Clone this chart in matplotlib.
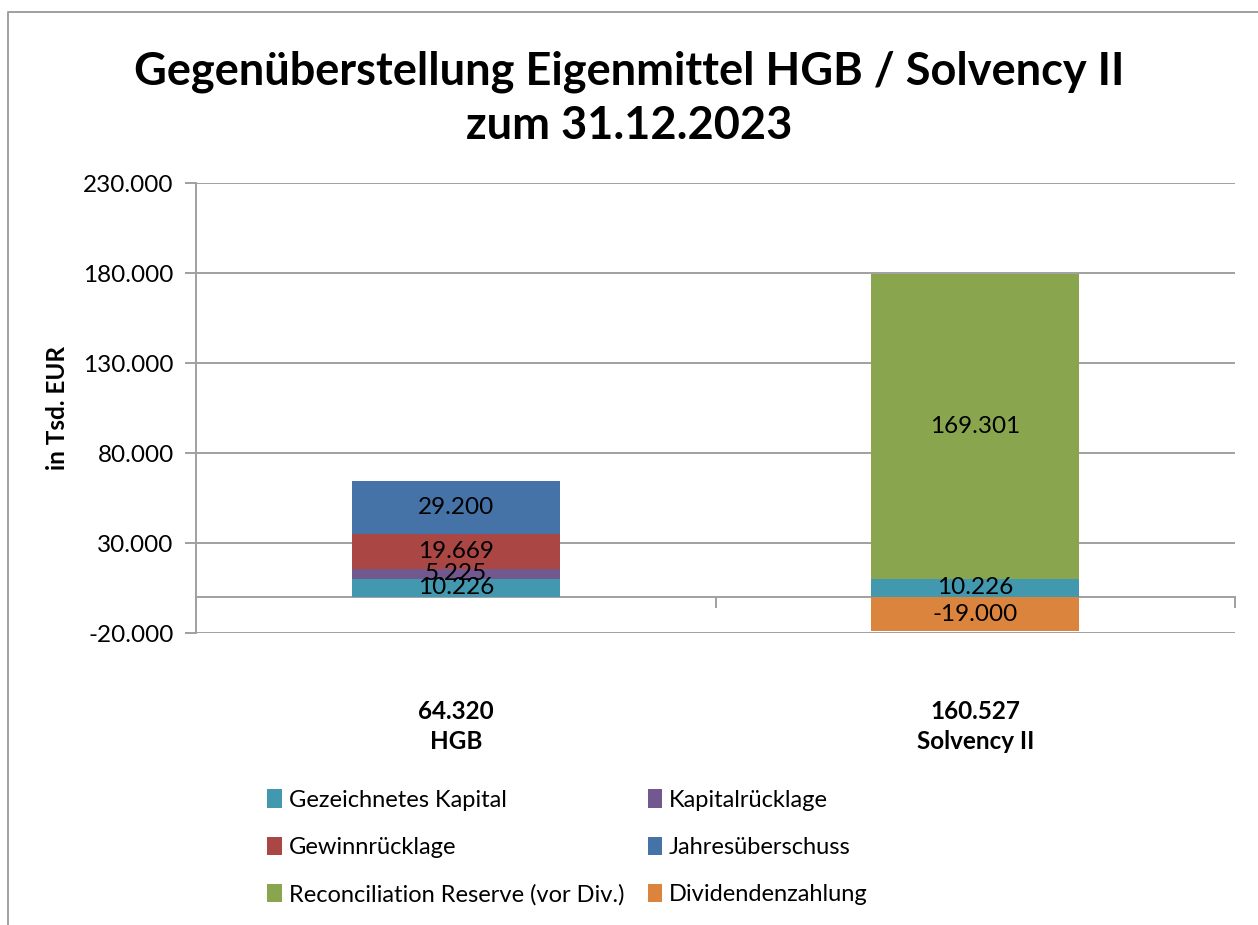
import matplotlib.pyplot as plt
from matplotlib.lines import Line2D
from matplotlib.patches import Patch
from matplotlib.ticker import FuncFormatter

# data (in Tsd. EUR)
categories = ["HGB", "Solvency II"]
totals = [64320, 160527]
series_names = ["Gezeichnetes Kapital", "Kapitalrücklage", "Gewinnrücklage",
                "Jahresüberschuss", "Reconciliation Reserve (vor Div.)", "Dividendenzahlung"]
gezeichnetes_kapital = [10226, 10226]
kapitalruecklage = [5225, 0]
gewinnruecklage = [19669, 0]
jahresueberschuss = [29200, 0]
reconciliation = [0, 169301]
dividende = [0, -19000]
colors = ["#4198AF", "#71588F", "#AA4643", "#4572A7", "#89A54E", "#DB843D"]

series = [gezeichnetes_kapital, kapitalruecklage, gewinnruecklage,
          jahresueberschuss, reconciliation, dividende]

plt.rcParams['font.family'] = ['Lato', 'DejaVu Sans']


def de_fmt(v):
    return f"{v:,.0f}".replace(",", ".")


fig = plt.figure(figsize=(12.58, 9.25), dpi=100)
ax = fig.add_axes([196 / 1258, 1 - 633 / 925, (1235 - 196) / 1258, 450 / 925])

x = list(range(len(categories)))
pos_base = [0.0] * len(categories)
neg_base = [0.0] * len(categories)
for vals, col in zip(series, colors):
    for i, v in enumerate(vals):
        if v == 0:
            continue
        if v > 0:
            b = pos_base[i]
            pos_base[i] += v
        else:
            b = neg_base[i]
            neg_base[i] += v
        ax.bar(i, v, bottom=b, width=0.4, color=col, zorder=3)
        ax.text(i, b + v / 2, de_fmt(v), ha='center', va='center',
                fontsize=17.5, color='black', zorder=4)

ax.set_xlim(-0.5, 1.5)
ax.set_ylim(-20000, 230000)
ax.set_yticks(range(-20000, 230001, 50000))
ax.yaxis.set_major_formatter(FuncFormatter(lambda v, p: de_fmt(v)))
ax.tick_params(axis='y', labelsize=17.5, length=8, width=1.4, color='#a0a0a0', pad=8)
ax.grid(axis='y', color='#a0a0a0', linewidth=1.4, zorder=0)
for s in ['top', 'right']:
    ax.spines[s].set_visible(False)
ax.spines['left'].set_color('#a0a0a0')
ax.spines['left'].set_linewidth(1.4)

# horizontal axis at zero with category boundary ticks
ax.spines['bottom'].set_position(('data', 0))
ax.spines['bottom'].set_color('#a0a0a0')
ax.spines['bottom'].set_linewidth(1.4)
ax.spines['bottom'].set_zorder(2)
ax.set_xticks([-0.5, 0.5, 1.5])
ax.set_xticklabels([])
ax.tick_params(axis='x', length=8, width=1.4, color='#a0a0a0', direction='out')

for i, (cat, tot) in enumerate(zip(categories, totals)):
    ax.text(i, -0.148, f"{de_fmt(tot)}\n{cat}", transform=ax.get_xaxis_transform(),
            ha='center', va='top', fontsize=17.5, fontweight='bold', linespacing=1.4)

ax.set_ylabel("in Tsd. EUR", fontsize=17.5, fontweight='bold', labelpad=10)

fig.text(0.5, 1 - 99 / 925, "Gegenüberstellung Eigenmittel HGB / Solvency II\nzum 31.12.2023",
         ha='center', va='center', fontsize=32.5, fontweight='bold', linespacing=1.35)

# legend (row-wise order like Excel)
order = [0, 2, 4, 1, 3, 5]
handles = [Patch(facecolor=colors[k], label=series_names[k]) for k in order]
fig.legend(handles=handles, ncol=2, loc='upper left', bbox_to_anchor=(258 / 1258, 1 - 780 / 925),
           frameon=False, fontsize=17, handlelength=0.6, handleheight=0.8, handletextpad=0.3,
           columnspacing=1.0, labelspacing=1.1, borderaxespad=0)

# chart frame (left + top edges visible in the screenshot)
fig.add_artist(Line2D([8 / 1258, 8 / 1258, 1], [0, 1 - 12 / 925, 1 - 12 / 925],
                      color='#a0a0a0', linewidth=1.4, transform=fig.transFigure))

fig.savefig("out.png", dpi=100)
